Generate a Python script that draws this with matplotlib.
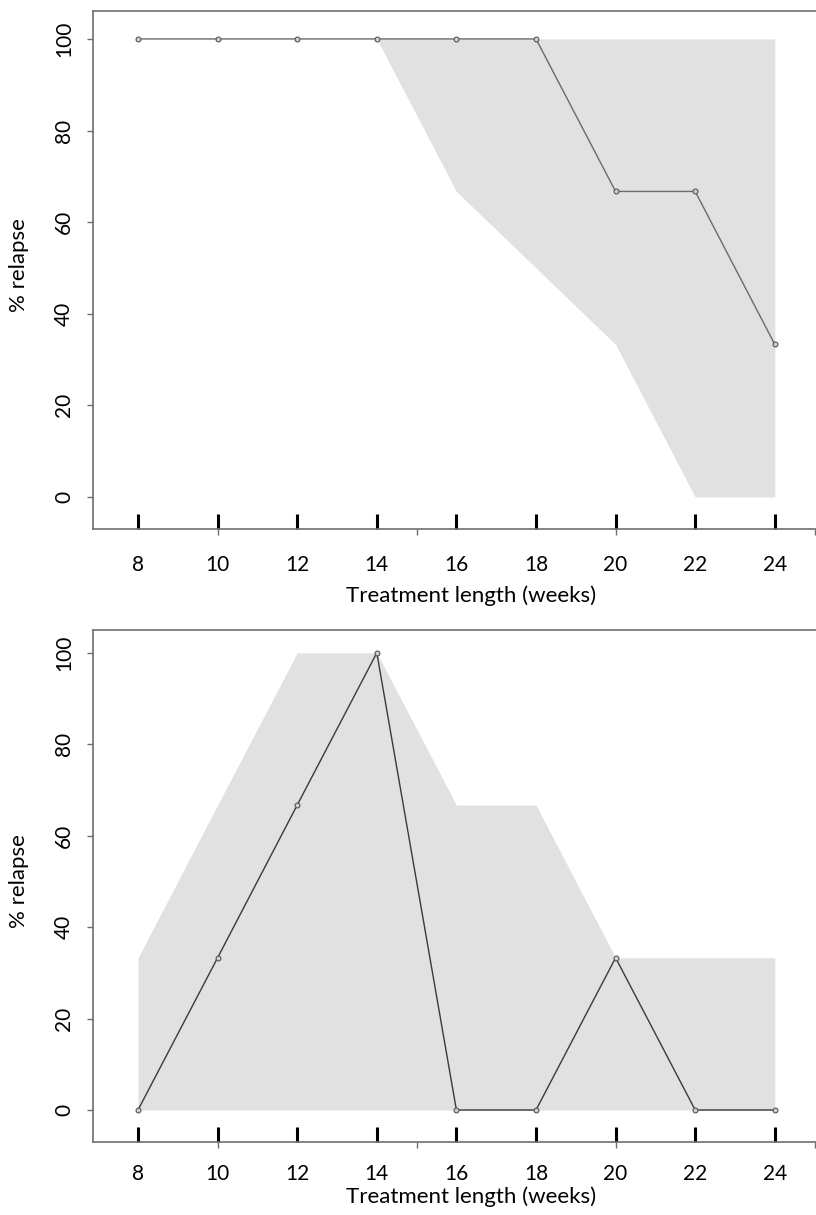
import matplotlib
matplotlib.use("Agg")
import matplotlib.pyplot as plt
from matplotlib.ticker import FixedLocator

plt.rcParams['font.family'] = ['Lato', 'DejaVu Sans']

weeks = [8, 10, 12, 14, 16, 18, 20, 22, 24]
week_labels = ["8", "10", "12", "14", "16", "18", "20", "22", "24"]

# top panel
top_relapse = [100, 100, 100, 100, 100, 100, 66.7, 66.7, 33.3]
top_band_x = [14, 16, 18, 20, 22, 24]
top_band_low = [100, 66.7, 50, 33.3, 0, 0]
top_band_high = [100, 100, 100, 100, 100, 100]

# bottom panel
bot_relapse = [0, 33.3, 66.7, 100, 0, 0, 33.3, 0, 0]
bot_band_x = [8, 10, 12, 14, 16, 18, 20, 22, 24]
bot_band_low = [0, 0, 0, 0, 0, 0, 0, 0, 0]
bot_band_high = [33.3, 66.7, 100, 100, 66.7, 66.7, 33.3, 33.3, 33.3]

yticks = [0, 20, 40, 60, 80, 100]
minor_x = [10, 15, 20, 25]

W, H = 816, 1215
fig = plt.figure(figsize=(W / 100, H / 100), dpi=100)

px = 39.8
x8 = 138
left_px = 93
right_px = 850
xmin = 8 - (x8 - left_px) / px
xmax = 8 + (right_px - x8) / px

spine_col = '#6e6e6e'
band_col = '#e0e1e0'


def panel(top_px, bot_px, ylim, y, bx, blo, bhi, line_col, xpad, xlab_off):
    ax = fig.add_axes([left_px / W, 1 - bot_px / H, (right_px - left_px) / W,
                       (bot_px - top_px) / H])
    ax.fill_between(bx, blo, bhi, color=band_col, linewidth=0, zorder=1)
    ax.plot(weeks, y, color=line_col, linewidth=1.0, marker='o', markersize=3.5,
            markerfacecolor='#d0d0d0', markeredgecolor='#555555',
            markeredgewidth=0.8, zorder=3)
    ax.set_xlim(xmin, xmax)
    ax.set_ylim(*ylim)
    for s in ['left', 'top', 'bottom']:
        ax.spines[s].set_color(spine_col)
        ax.spines[s].set_linewidth(1.2)
    ax.spines['right'].set_visible(False)
    ax.xaxis.remove_overlapping_locs = False
    ax.set_xticks(weeks)
    ax.set_xticklabels(week_labels)
    ax.xaxis.set_minor_locator(FixedLocator(minor_x))
    ax.tick_params(axis='x', which='major', direction='in', length=11,
                   width=2.2, color='black', labelsize=15, pad=xpad)
    ax.tick_params(axis='x', which='minor', direction='out', length=4.5,
                   width=1.0, color=spine_col)
    ax.set_yticks(yticks)
    ax.set_yticklabels([str(v) for v in yticks], rotation=90, va='center')
    ax.tick_params(axis='y', which='major', direction='out', length=4.5,
                   width=1.0, color=spine_col, labelsize=15, pad=9)
    ax.set_xlabel('Treatment length (weeks)', fontsize=16)
    ax.set_ylabel('% relapse', fontsize=16)
    hpx = bot_px - top_px
    ax.xaxis.set_label_coords(0.5, -(xlab_off / hpx))
    ax.yaxis.set_label_coords(-(74 / (right_px - left_px)), 0.51)
    ax.xaxis.label.set_va('center')
    ax.yaxis.label.set_va('center')
    return ax


panel(11, 529, (-7.0, 106.1), top_relapse, top_band_x, top_band_low,
      top_band_high, '#6a6a6a', 19, 67)
panel(630, 1142, (-7.0, 105.0), bot_relapse, bot_band_x, bot_band_low,
      bot_band_high, '#3a3a3a', 16, 55)

fig.savefig('out.png', dpi=100)
